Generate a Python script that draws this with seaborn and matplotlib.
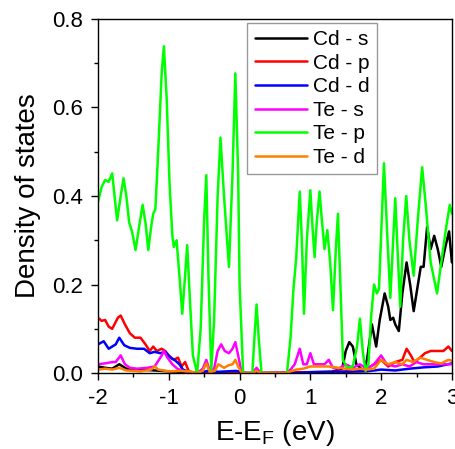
import numpy as np
import pandas as pd
import seaborn as sns
import matplotlib.pyplot as plt
from matplotlib.ticker import MultipleLocator

# --- 读图得到的 PDOS 数据 (E-E_F, eV) ---
e_cd_s = [-2.0, -1.9, -1.8, -1.7, -1.6, -1.4, -1.2, -1.0, -0.8, -0.6, 0.0, 0.7, 1.0, 1.3, 1.45, 1.5,
          1.55, 1.6, 1.65, 1.75, 1.8, 1.87, 1.93, 1.98, 2.05, 2.1, 2.13, 2.17, 2.2, 2.25, 2.3, 2.36,
          2.41, 2.46, 2.52, 2.56, 2.6, 2.65, 2.7, 2.75, 2.8, 2.85, 2.9, 2.96, 3.0]
cd_s = [0.015, 0.012, 0.01, 0.02, 0.01, 0.008, 0.006, 0.004, 0.003, 0.0, 0.0, 0.0, 0.002, 0.003, 0.01, 0.05,
        0.07, 0.06, 0.02, 0.005, 0.03, 0.11, 0.06, 0.12, 0.18, 0.15, 0.12, 0.125, 0.11, 0.095, 0.18, 0.25,
        0.2, 0.14, 0.2, 0.24, 0.24, 0.33, 0.28, 0.31, 0.28, 0.24, 0.28, 0.32, 0.25]

e_cd_p = [-2.0, -1.95, -1.9, -1.85, -1.8, -1.72, -1.68, -1.62, -1.55, -1.48, -1.4, -1.33, -1.27, -1.22,
          -1.17, -1.1, -1.05, -1.0, -0.93, -0.87, -0.82, -0.77, -0.72, -0.65, 0.0, 1.4, 1.6, 1.8, 1.9,
          2.0, 2.1, 2.2, 2.3, 2.36, 2.42, 2.47, 2.55, 2.62, 2.7, 2.8, 2.88, 2.95, 3.0]
cd_p = [0.125, 0.118, 0.12, 0.105, 0.1, 0.125, 0.13, 0.11, 0.09, 0.08, 0.08, 0.065, 0.05, 0.06,
        0.05, 0.055, 0.05, 0.04, 0.03, 0.035, 0.015, 0.025, 0.005, 0.0, 0.0, 0.003, 0.005, 0.01, 0.02,
        0.03, 0.015, 0.025, 0.03, 0.055, 0.04, 0.025, 0.035, 0.045, 0.05, 0.05, 0.05, 0.06, 0.05]

e_cd_d = [-2.0, -1.92, -1.85, -1.75, -1.7, -1.63, -1.55, -1.45, -1.35, -1.27, -1.2, -1.12, -1.05, -0.98,
          -0.92, -0.85, -0.8, -0.72, -0.6, -0.45, -0.3, -0.05, 0.1, 0.7, 1.0, 1.5, 1.8, 2.0, 2.2, 2.4,
          2.6, 2.8, 3.0]
cd_d = [0.065, 0.072, 0.055, 0.065, 0.08, 0.063, 0.057, 0.055, 0.055, 0.045, 0.048, 0.045, 0.048, 0.035,
        0.03, 0.02, 0.008, 0.003, 0.0, 0.005, 0.003, 0.005, 0.0, 0.0, 0.002, 0.003, 0.004, 0.008, 0.006, 0.01,
        0.013, 0.015, 0.022]

e_te_s = [-2.0, -1.9, -1.8, -1.75, -1.68, -1.62, -1.55, -1.45, -1.3, -1.2, -1.1, -1.07, -1.02, -0.95,
          -0.88, -0.8, -0.7, -0.6, -0.52, -0.47, -0.42, -0.36, -0.31, -0.26, -0.21, -0.15, -0.1, -0.06,
          -0.02, 0.03, 0.18, 0.24, 0.3, 0.65, 0.72, 0.78, 0.85, 0.9, 0.95, 1.0, 1.05, 1.12, 1.2, 1.26,
          1.32, 1.4, 1.5, 1.6, 1.7, 1.8, 1.9, 2.0, 2.08, 2.2, 2.3, 2.4, 2.5, 2.6, 2.8, 3.0]
te_s = [0.02, 0.022, 0.025, 0.025, 0.04, 0.02, 0.012, 0.01, 0.012, 0.015, 0.04, 0.05, 0.035, 0.02,
        0.01, 0.005, 0.002, 0.0, 0.01, 0.03, 0.005, 0.01, 0.05, 0.065, 0.05, 0.045, 0.055, 0.07,
        0.04, 0.0, 0.0, 0.012, 0.0, 0.0, 0.008, 0.02, 0.055, 0.02, 0.02, 0.045, 0.02, 0.02, 0.02, 0.03,
        0.012, 0.01, 0.02, 0.012, 0.02, 0.01, 0.02, 0.04, 0.02, 0.015, 0.02, 0.015, 0.025, 0.02, 0.02, 0.02]

e_te_p = [-2.0, -1.95, -1.9, -1.85, -1.8, -1.76, -1.73, -1.68, -1.64, -1.6, -1.56, -1.52, -1.47, -1.42,
          -1.37, -1.33, -1.29, -1.25, -1.22, -1.19, -1.15, -1.1, -1.07, -1.03, -0.99, -0.95, -0.93, -0.89,
          -0.85, -0.81, -0.77, -0.74, -0.7, -0.66, -0.6, -0.55, -0.5, -0.47, -0.44, -0.4, -0.36, -0.31,
          -0.27, -0.22, -0.15, -0.1, -0.06, -0.02, 0.0, 0.05, 0.18, 0.21, 0.24, 0.27, 0.31, 0.67, 0.72,
          0.76, 0.8, 0.85, 0.88, 0.91, 0.95, 1.0, 1.03, 1.06, 1.09, 1.13, 1.16, 1.2, 1.24, 1.28, 1.32,
          1.36, 1.39, 1.42, 1.46, 1.52, 1.6, 1.66, 1.7, 1.74, 1.78, 1.82, 1.86, 1.9, 1.94, 1.97, 2.04,
          2.09, 2.13, 2.17, 2.2, 2.24, 2.27, 2.31, 2.355, 2.4, 2.46, 2.52, 2.58, 2.63, 2.7, 2.79, 2.85,
          2.92, 2.97, 3.0]
te_p = [0.387, 0.42, 0.436, 0.432, 0.451, 0.39, 0.345, 0.4, 0.44, 0.4, 0.34, 0.32, 0.278, 0.33,
        0.38, 0.34, 0.278, 0.33, 0.36, 0.37, 0.5, 0.68, 0.738, 0.62, 0.43, 0.31, 0.285, 0.3,
        0.22, 0.134, 0.22, 0.289, 0.16, 0.04, 0.0, 0.1, 0.35, 0.447, 0.22, 0.006, 0.12, 0.4,
        0.532, 0.4, 0.24, 0.45, 0.677, 0.45, 0.2, 0.0, 0.0, 0.08, 0.155, 0.08, 0.0, 0.0, 0.08,
        0.187, 0.26, 0.41, 0.3, 0.134, 0.3, 0.413, 0.33, 0.262, 0.34, 0.41, 0.35, 0.28, 0.323, 0.25, 0.142,
        0.28, 0.36, 0.22, 0.03, 0.012, 0.015, 0.06, 0.123, 0.05, 0.005, 0.02, 0.13, 0.2, 0.18, 0.19, 0.474,
        0.3, 0.17, 0.3, 0.395, 0.25, 0.15, 0.3, 0.4, 0.3, 0.22, 0.35, 0.465, 0.38, 0.25, 0.18, 0.25,
        0.33, 0.38, 0.36]

e_te_d = [-2.0, -1.9, -1.8, -1.7, -1.6, -1.4, -1.25, -1.2, -1.15, -1.0, -0.85, -0.7, -0.6, -0.52, -0.47,
          -0.42, -0.35, -0.3, -0.22, -0.15, -0.1, -0.06, -0.02, 0.03, 0.18, 0.24, 0.3, 0.65, 0.8, 0.9,
          1.0, 1.1, 1.25, 1.4, 1.5, 1.6, 1.7, 1.8, 1.9, 2.0, 2.1, 2.2, 2.3, 2.36, 2.45, 2.55, 2.65,
          2.75, 2.85, 2.95, 3.0]
te_d = [0.008, 0.01, 0.008, 0.012, 0.006, 0.004, 0.008, 0.015, 0.008, 0.004, 0.005, 0.004, 0.0, 0.005, 0.022,
        0.002, 0.005, 0.02, 0.012, 0.018, 0.02, 0.03, 0.015, 0.0, 0.0, 0.005, 0.0, 0.0, 0.008, 0.01,
        0.015, 0.015, 0.015, 0.012, 0.01, 0.008, 0.01, 0.008, 0.01, 0.03, 0.02, 0.025, 0.02, 0.03, 0.025, 0.035, 0.03,
        0.025, 0.022, 0.03, 0.028]

series = [
    ("Cd - s", e_cd_s, cd_s, "black"),
    ("Cd - p", e_cd_p, cd_p, "#ff0000"),
    ("Cd - d", e_cd_d, cd_d, "#0000ff"),
    ("Te - s", e_te_s, te_s, "#ff00ff"),
    ("Te - p", e_te_p, te_p, "#00ff00"),
    ("Te - d", e_te_d, te_d, "#ff8000"),
]

x_ticks = [-2, -1, 0, 1, 2, 3]
x_labels = ["-2", "-1", "0", "1", "2", "3"]
y_ticks = [0.0, 0.2, 0.4, 0.6, 0.8]
y_labels = ["0.0", "0.2", "0.4", "0.6", "0.8"]

sns.set_style("ticks")
plt.rcParams['font.family'] = ['Liberation Sans', 'DejaVu Sans']
plt.rcParams['axes.unicode_minus'] = False
plt.rcParams['text.color'] = 'black'
plt.rcParams['axes.labelcolor'] = 'black'

fig = plt.figure(figsize=(4.56, 4.49), dpi=100)
ax = fig.add_axes([0.215, 0.169, 0.776, 0.789])

for name, e, v, c in series:
    df = pd.DataFrame({"E": e, "DOS": v})
    sns.lineplot(data=df, x="E", y="DOS", color=c, lw=1.8, label=name,
                 estimator=None, sort=False, ax=ax)

ax.set_xlim(-2, 3)
ax.set_ylim(0, 0.8)
ax.set_xticks(x_ticks)
ax.set_xticklabels(x_labels)
ax.set_yticks(y_ticks)
ax.set_yticklabels(y_labels)
ax.xaxis.set_minor_locator(MultipleLocator(0.5))
ax.yaxis.set_minor_locator(MultipleLocator(0.1))
ax.tick_params(which='major', direction='out', length=5, width=1, labelsize=16, pad=6, colors='black')
ax.tick_params(which='minor', direction='out', length=3, width=1, colors='black')
for s in ax.spines.values():
    s.set_linewidth(1.0)
    s.set_color('black')

ax.set_xlabel(r"E-E$_\mathregular{F}$ (eV)", fontsize=20, labelpad=6)
ax.set_ylabel("Density of states", fontsize=20, labelpad=8)

leg = ax.legend(loc='upper right', bbox_to_anchor=(0.788, 0.989), borderaxespad=0,
                fontsize=15, handlelength=2.5, labelspacing=0.22, handletextpad=0.3,
                fancybox=False, framealpha=1, edgecolor='#999999', borderpad=0.35)
leg.get_frame().set_linewidth(1.0)

plt.savefig("out.png", dpi=100)
